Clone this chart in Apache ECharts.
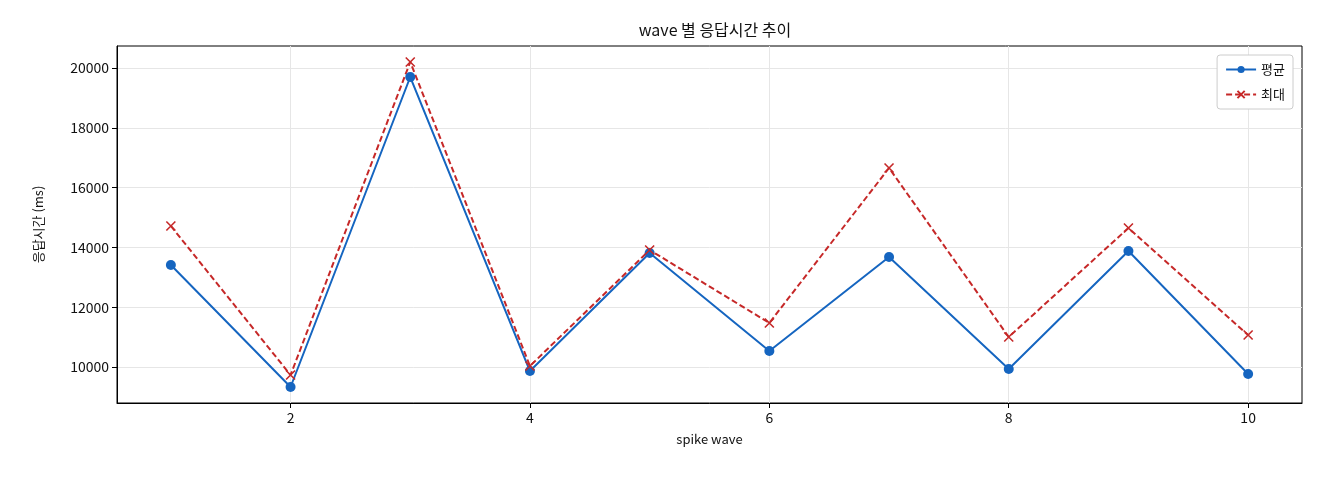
<!DOCTYPE html><html><head><meta charset="utf-8"><script src="https://cdn.jsdelivr.net/npm/echarts@6/dist/echarts.min.js"></script></head><body style="margin:0"><div id="c" style="width:1320px;height:480px"></div><script>
const waves=[1,2,3,4,5,6,7,8,9,10];
const avgVals=[13411,9331,19699,9866,13813,10535,13679,9933,13880,9766];
const maxVals=[14716,9732,20201,10033,13913,11472,16656,11003,14649,11070];
const xTicks=[2,4,6,8,10];
const yTicks=[10000,12000,14000,16000,18000,20000];
const F='"Noto Sans CJK KR", sans-serif';
const ch=echarts.init(document.getElementById('c'));
const grid={lineStyle:{color:'#e6e6e6'}};
ch.setOption({animation:false,
title:{text:'wave 별 응답시간 추이',left:710,textAlign:'center',top:17,textStyle:{fontFamily:F,fontSize:16,fontWeight:'normal',color:'#111'}},
legend:{right:27,top:55,orient:'vertical',itemGap:12,backgroundColor:'#fff',borderColor:'#ccc',borderWidth:1,borderRadius:3,padding:[8,8],itemWidth:30,itemHeight:9,textStyle:{fontFamily:F,fontSize:13,color:'#111'},data:['평균','최대']},
grid:{left:117,right:18,top:46,bottom:77,show:true,borderColor:'#000',borderWidth:1},
xAxis:{type:'value',min:0.55,max:10.45,name:'spike wave',nameLocation:'middle',nameGap:30,nameTextStyle:{fontFamily:F,fontSize:13,color:'#111'},
axisLine:{onZero:false,lineStyle:{color:'#000'}},axisTick:{customValues:xTicks,length:5,lineStyle:{color:'#000'}},axisLabel:{customValues:xTicks,fontFamily:F,fontSize:14,color:'#111'},splitLine:{show:true,...grid}},
yAxis:{type:'value',min:8796,max:20736,name:'응답시간 (ms)',nameLocation:'middle',nameGap:72,nameTextStyle:{fontFamily:F,fontSize:13,color:'#111'},
axisLine:{show:true,lineStyle:{color:'#000'}},axisTick:{show:true,customValues:yTicks,length:5,lineStyle:{color:'#000'}},axisLabel:{customValues:yTicks,formatter:v=>String(v),fontFamily:F,fontSize:14,color:'#111'},splitLine:{show:true,...grid}},
series:[
{name:'평균',type:'line',data:waves.map((w,i)=>[w,avgVals[i]]),symbol:'circle',symbolSize:10,itemStyle:{color:'#1565c0'},lineStyle:{width:2,color:'#1565c0'}},
{name:'최대',type:'line',data:waves.map((w,i)=>[w,maxVals[i]]),symbol:'path://M0,0L10,10M10,0L0,10',symbolSize:9,itemStyle:{color:'none',borderColor:'#c62828',borderWidth:1.6},lineStyle:{width:2,type:[6,3],color:'#c62828'}}
]});
</script></body></html>
